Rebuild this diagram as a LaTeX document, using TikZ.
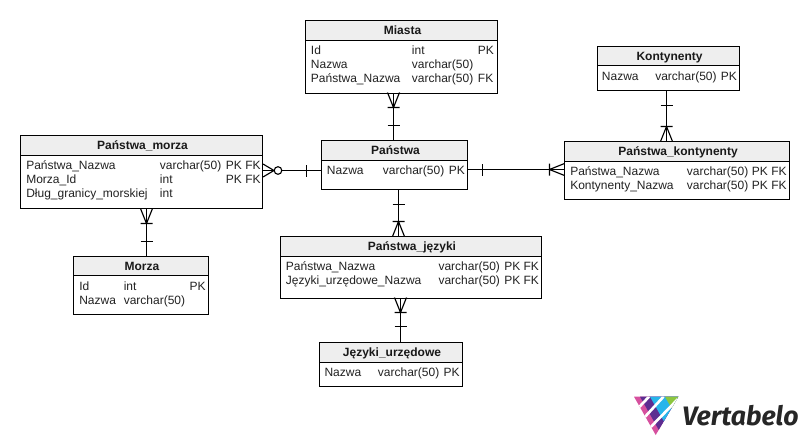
\documentclass[tikz,border=0pt]{standalone}
\usepackage{fontspec}
\setmainfont{Liberation Sans}
\newfontfamily\logofont{Fira Sans}
\usetikzlibrary{fit,calc,positioning}
\definecolor{headgray}{HTML}{EEEEEE}
\definecolor{cellink}{HTML}{222222}
\definecolor{logomag}{HTML}{D6509E}
\definecolor{logopur}{HTML}{5C2D91}
\definecolor{logocya}{HTML}{27B5EA}
\definecolor{logogre}{HTML}{8CC63F}
\tikzstyle{tabela}=[draw,fill=white,inner sep=0,outer sep=0,line width=0.85pt]
\tikzstyle{naglowek}=[draw,fill=headgray,inner sep=0,outer sep=0,line width=0.85pt]

\begin{document}
\begin{tikzpicture}[
    x=0.75pt,y=-0.75pt,
    tytul/.style={
        inner sep=0,
        anchor=base,
        xshift=0.75pt,
        font=\fontsize{9pt}{10pt}\selectfont\bfseries,
        text=black!90
    },
    cell/.style={
        inner sep=0,
        anchor=base west,
        font=\fontsize{9pt}{10pt}\selectfont,
        text=cellink
    },
    relacja/.style={line width=0.85pt},
    jeden/.pic={\draw[relacja] (-6,0) -- (6,0);},
    wiele/.pic={\draw[relacja] (-6,0) -- (6,0) (-6,15) -- (0,0) -- (6,15);},
    wielezero/.pic={\draw[relacja] (-6.5,11) -- (0,0) -- (6.5,11);}
    ]
    \useasboundingbox (0,0) rectangle (809,446);

    % Miasta
    \node[tabela,fit={(305.5,20.5) (497.5,93.5)}] (miasta) {};
    \node[naglowek,fit={(305.5,20.5) (497.5,40.5)}] (miastaH) {};
    \node[tytul] (miastaT) at ($(miasta.north)+(0,14)$) {Miasta};
    \node[cell] (miasta1a) at (310.7,54) {Id};
    \node[cell] (miasta1b) at (411.7,54) {int};
    \node[cell] (miasta1c) at (477.7,54) {PK};
    \node[cell] (miasta2a) at (310.7,68) {Nazwa};
    \node[cell] (miasta2b) at (411.7,68) {varchar(50)};
    \node[cell] (miasta3a) at (310.7,82) {Państwa\_Nazwa};
    \node[cell] (miasta3b) at (411.7,82) {varchar(50)};
    \node[cell] (miasta3c) at (477.7,82) {FK};

    % Kontynenty
    \node[tabela,fit={(597.5,46.5) (739.5,90.5)}] (kont) {};
    \node[naglowek,fit={(597.5,46.5) (739.5,65.5)}] (kontH) {};
    \node[tytul] (kontT) at ($(kont.north)+(0,14)$) {Kontynenty};
    \node[cell] (kont1a) at (601.7,80.6) {Nazwa};
    \node[cell] (kont1b) at (655,80.6) {varchar(50)};
    \node[cell] (kont1c) at (720.7,80.6) {PK};

    % Panstwa
    \node[tabela,fit={(321.5,140.5) (467.5,189.5)}] (panstwa) {};
    \node[naglowek,fit={(321.5,140.5) (467.5,160.5)}] (panstwaH) {};
    \node[tytul] (panstwaT) at ($(panstwa.north)+(0,14)$) {Państwa};
    \node[cell] (panstwa1a) at (326.7,174.6) {Nazwa};
    \node[cell] (panstwa1b) at (382.7,174.6) {varchar(50)};
    \node[cell] (panstwa1c) at (448.7,174.6) {PK};

    % Panstwa_kontynenty
    \node[tabela,fit={(564.5,141.5) (789.5,199.5)}] (pk) {};
    \node[naglowek,fit={(564.5,141.5) (789.5,161.5)}] (pkH) {};
    \node[tytul] (pkT) at ($(pk.north)+(0,14)$) {Państwa\_kontynenty};
    \node[cell] (pk1a) at (570,175.6) {Państwa\_Nazwa};
    \node[cell] (pk1b) at (686.7,175.6) {varchar(50)};
    \node[cell] (pk1c) at (751.7,175.6) {PK FK};
    \node[cell] (pk2a) at (570,189.6) {Kontynenty\_Nazwa};
    \node[cell] (pk2b) at (686.7,189.6) {varchar(50)};
    \node[cell] (pk2c) at (751.7,189.6) {PK FK};

    % Panstwa_morza
    \node[tabela,fit={(20.5,135.5) (262.5,208.5)}] (pm) {};
    \node[naglowek,fit={(20.5,135.5) (262.5,155.5)}] (pmH) {};
    \node[tytul] (pmT) at ($(pm.north)+(0,14)$) {Państwa\_morza};
    \node[cell] (pm1a) at (26,169.3) {Państwa\_Nazwa};
    \node[cell] (pm1b) at (159.7,169.3) {varchar(50)};
    \node[cell] (pm1c) at (225.7,169.3) {PK FK};
    \node[cell] (pm2a) at (26,183.3) {Morza\_Id};
    \node[cell] (pm2b) at (159.7,183.3) {int};
    \node[cell] (pm2c) at (225.7,183.3) {PK FK};
    \node[cell] (pm3a) at (26,197.3) {Dług\_granicy\_morskiej};
    \node[cell] (pm3b) at (159.7,197.3) {int};

    % Morza
    \node[tabela,fit={(73.5,256.5) (208.5,314.5)}] (morza) {};
    \node[naglowek,fit={(73.5,256.5) (208.5,275.5)}] (morzaH) {};
    \node[tytul] (morzaT) at ($(morza.north)+(0,14)$) {Morza};
    \node[cell] (morza1a) at (79,290) {Id};
    \node[cell] (morza1b) at (123.5,290) {int};
    \node[cell] (morza1c) at (189.3,290) {PK};
    \node[cell] (morza2a) at (79,304) {Nazwa};
    \node[cell] (morza2b) at (123.5,304) {varchar(50)};

    % Panstwa_jezyki
    \node[tabela,fit={(280.5,236.5) (541.5,298.5)}] (pj) {};
    \node[naglowek,fit={(280.5,236.5) (541.5,256.5)}] (pjH) {};
    \node[tytul] (pjT) at ($(pj.north)+(0,14)$) {Państwa\_języki};
    \node[cell] (pj1a) at (285.7,270.6) {Państwa\_Nazwa};
    \node[cell] (pj1b) at (438.3,270.6) {varchar(50)};
    \node[cell] (pj1c) at (504,270.6) {PK FK};
    \node[cell] (pj2a) at (285.7,284.6) {Języki\_urzędowe\_Nazwa};
    \node[cell] (pj2b) at (438.3,284.6) {varchar(50)};
    \node[cell] (pj2c) at (504,284.6) {PK FK};

    % Jezyki_urzedowe
    \node[tabela,fit={(319.5,342.5) (462.5,386.5)}] (ju) {};
    \node[naglowek,fit={(319.5,342.5) (462.5,362.5)}] (juH) {};
    \node[tytul] (juT) at ($(ju.north)+(0,14)$) {Języki\_urzędowe};
    \node[cell] (ju1a) at (324.3,376.6) {Nazwa};
    \node[cell] (ju1b) at (377.7,376.6) {varchar(50)};
    \node[cell] (ju1c) at (443.3,376.6) {PK};

    % relacje
    \draw[relacja] (393.5,0 |- miasta.south) -- (393.5,0 |- panstwa.north);
    \pic[rotate=180] at (393.5,107.5) {wiele};
    \pic at (393.5,125.5) {jeden};

    \draw[relacja] (666.5,0 |- kont.south) -- (666.5,0 |- pk.north);
    \pic at (666.5,105.5) {jeden};
    \pic at (666.5,126.5) {wiele};

    \draw[relacja] (146.5,0 |- pm.south) -- (146.5,0 |- morza.north);
    \pic[rotate=180] at (146.5,223.5) {wiele};
    \pic at (146.5,241.5) {jeden};

    \draw[relacja] (398.5,0 |- panstwa.south) -- (398.5,0 |- pj.north);
    \pic at (398.5,204.5) {jeden};
    \pic at (398.5,221.5) {wiele};

    \draw[relacja] (400.5,0 |- pj.south) -- (400.5,0 |- ju.north);
    \pic[rotate=180] at (400.5,312.5) {wiele};
    \pic at (400.5,326.5) {jeden};

    \draw[relacja] (pm.east |- 0,170.5) -- (panstwa.west |- 0,170.5);
    \pic[rotate=-90] at (274,170.5) {wielezero};
    \draw[relacja,fill=white] (278,170.5) circle (3.8);
    \pic[rotate=90] at (306.5,170.5) {jeden};

    \draw[relacja] (panstwa.east |- 0,169.5) -- (pk.west |- 0,169.5);
    \pic[rotate=90] at (482.5,169.5) {jeden};
    \pic[rotate=90] at (549.5,169.5) {wiele};

    % logo
    \begin{scope}
    \clip (634,396.7) -- (678.3,396.7) -- (655.7,435) -- cycle;
    \fill[logomag] (630,390) rectangle (690,440);
    \fill[logopur] (640,396.7) -- (662.6,436.7) -- (690,440) -- (690,390) -- (640,390) -- cycle;
    \fill[logocya] (650,396.7) -- (672.6,436.7) -- (690,440) -- (690,390) -- (650,390) -- cycle;
    \fill[logogre] (665,396.7) -- (680,423) -- (690,423) -- (690,390) -- (665,390) -- cycle;
    \draw[white,line width=2pt] (649,396.7) -- (630,416.7);
    \draw[white,line width=2pt] (663.5,396.7) -- (630,433);
    \draw[white,line width=2pt] (678,399) -- (640,438);
    \end{scope}
    \node[inner sep=0,anchor=base west,font=\logofont\fontsize{20pt}{24pt}\selectfont\bfseries\itshape,text=black!85] (logoT) at (682,425.7) {Vertabelo};
\end{tikzpicture}
\end{document}
